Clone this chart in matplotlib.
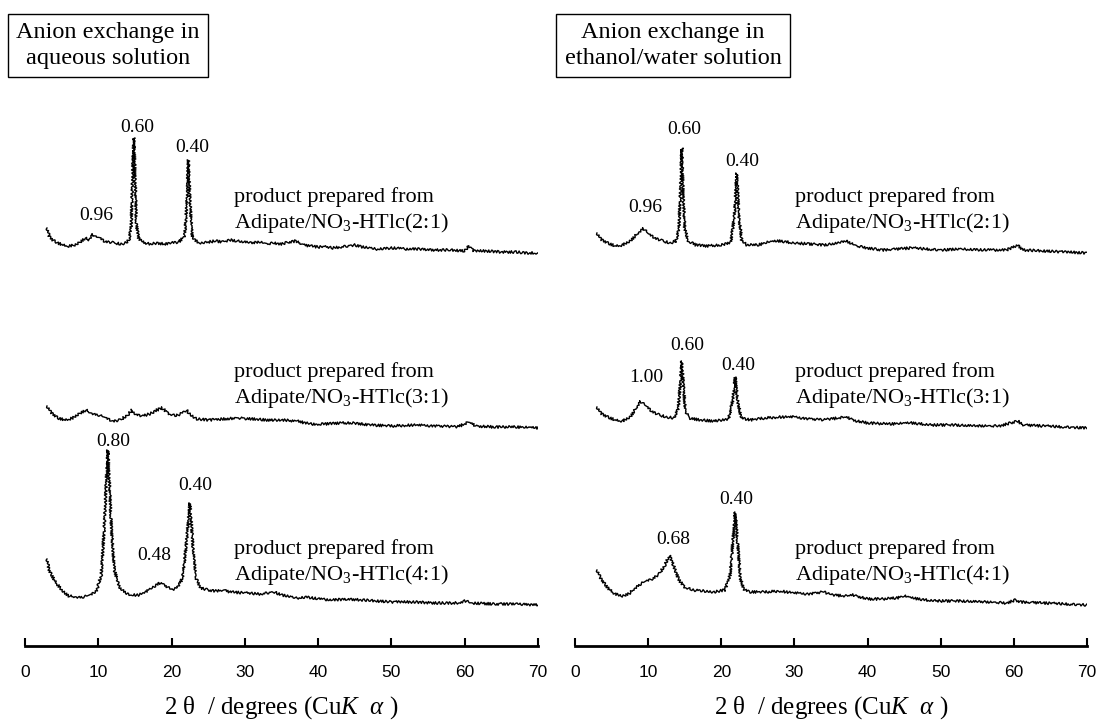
import matplotlib
matplotlib.use("Agg")
import matplotlib.pyplot as plt

plt.rcParams["font.family"] = ["Liberation Serif", "DejaVu Serif"]
plt.rcParams["mathtext.fontset"] = "custom"
plt.rcParams["mathtext.rm"] = "Liberation Serif"
plt.rcParams["mathtext.it"] = "Liberation Serif:italic"

# ---- data: 2-theta (deg) and relative intensity ----
# aqueous solution
aq21_x = [3.0, 3.3, 3.8, 4.5, 5.2, 6.0, 6.8, 7.5, 8.2, 8.7, 9.2, 9.6, 10.2, 10.8, 11.5, 12.3, 13.0, 13.7,
          14.2, 14.5, 14.7, 14.85, 15.0, 15.2, 15.5, 16.0, 17, 18, 19, 20, 21, 21.8, 22.1, 22.3, 22.5, 22.8,
          23.3, 24, 25, 26, 27, 28, 29, 30, 31, 32, 33, 34, 35, 36, 37, 38, 39, 40, 41, 42, 43, 44, 45, 46,
          47, 48, 50, 52, 54, 56, 58, 60, 60.6, 61.2, 63, 65, 67, 68.5, 70]
aq21_y = [25, 17, 13, 10, 8, 7, 8, 11, 15, 13, 19, 16, 15, 12, 11, 10, 9, 10,
          13, 28, 83, 115, 83, 28, 15, 11, 9, 10, 9, 10, 11, 17, 53, 93, 53, 17,
          12, 10, 11, 12, 11, 13, 12, 11, 10, 11, 9, 10, 9, 11, 12, 8, 7, 6, 6, 5, 6, 7, 8, 6,
          5, 4, 5, 4, 4, 3, 3, 2, 7, 2, 2, 1, 1, 0, 0]

aq31_x = [3.0, 3.5, 4.5, 5.5, 6.5, 7.5, 8.3, 9.0, 10, 11, 12, 13, 14, 14.6, 15.2, 16, 17, 18, 18.7, 19.5,
          20.5, 21.5, 22.0, 22.6, 23.5, 25, 27, 29, 31, 33, 35, 37, 39, 41, 43, 45, 47, 50, 53, 56, 59,
          60.6, 61.5, 64, 67, 70]
aq31_y = [22, 16, 10, 8, 10, 15, 18, 15, 13, 10, 7, 8, 13, 18, 13, 12, 14, 18, 20, 15,
          12, 15, 18, 13, 9, 8, 9, 10, 9, 8, 8, 7, 4, 4, 5, 5, 3, 2, 3, 2, 1,
          6, 2, 1, 1, 0]

aq41_x = [3.0, 3.3, 4.0, 5.0, 6.0, 7.0, 8.0, 9.0, 9.8, 10.4, 10.8, 11.1, 11.3, 11.5, 11.8, 12.2, 12.8,
          13.5, 14.5, 15.5, 16.5, 17.5, 18.3, 19.0, 20.0, 20.8, 21.5, 22.0, 22.5, 22.9, 23.3, 24.0, 25,
          26, 27, 28, 30, 32, 34, 35, 37, 38.5, 40, 42, 44, 46, 48, 50, 53, 56, 59, 60, 61, 64, 67, 70]
aq41_y = [46, 35, 25, 15, 9, 8, 8, 10, 15, 30, 75, 125, 155, 125, 75, 35, 19,
          13, 10, 10, 13, 18, 22, 20, 15, 17, 27, 60, 102, 60, 27, 17, 15,
          14, 15, 13, 12, 11, 13, 10, 7, 8, 6, 5, 6, 5, 4, 3, 3, 2, 2, 4, 2, 1, 1, 0]

# ethanol/water solution
ew21_x = [3.0, 3.5, 4.5, 5.5, 6.5, 7.5, 8.5, 9.3, 10.0, 11, 12, 13, 13.8, 14.2, 14.45, 14.6, 14.75, 15.0,
          15.5, 16.5, 18, 20, 21.3, 21.8, 22.1, 22.4, 22.8, 23.5, 25, 26.5, 28, 30, 32, 34, 36, 37, 38.5,
          40, 42, 44, 46, 48, 50, 53, 56, 59, 60.5, 61.3, 64, 67, 70]
ew21_y = [20, 14, 10, 7, 8, 12, 19, 25, 19, 15, 12, 10, 12, 24, 67, 105, 67, 24,
          12, 8, 7, 8, 11, 37, 80, 37, 12, 8, 8, 11, 12, 10, 9, 8, 10, 12, 7,
          5, 3, 4, 5, 4, 3, 4, 3, 3, 8, 3, 2, 1, 0]

ew31_x = [3.0, 3.5, 4.5, 5.5, 6.5, 7.5, 8.3, 8.9, 9.5, 10.5, 11.5, 12.5, 13.5, 14.1, 14.4, 14.6, 14.8,
          15.1, 15.6, 17, 19, 21.0, 21.6, 21.9, 22.2, 22.7, 24, 26, 28, 30, 32, 34, 36, 37, 38.5, 40, 43,
          46, 49, 52, 55, 58, 60.5, 61.3, 64, 67, 70]
ew31_y = [21, 15, 11, 8, 7, 11, 19, 27, 23, 17, 13, 11, 10, 19, 44, 67, 44,
          17, 10, 8, 7, 9, 29, 51, 29, 10, 8, 10, 11, 11, 9, 8, 10, 11, 7, 5, 4,
          5, 3, 3, 2, 2, 7, 3, 2, 1, 0]

ew41_x = [3.0, 3.5, 4.5, 5.5, 6.5, 7.5, 8.5, 9.5, 10.5, 11.5, 12.3, 12.9, 13.5, 14.2, 15.0, 16, 17.5, 19,
          20.5, 21.2, 21.6, 21.9, 22.2, 22.6, 23.1, 24, 26, 28, 30, 32, 34, 35, 37, 38, 40, 42, 44, 45,
          46, 48, 50, 53, 56, 59, 60.2, 61, 64, 67, 70]
ew41_y = [35, 27, 17, 11, 9, 12, 19, 23, 26, 31, 40, 50, 39, 25, 18, 15, 14, 13,
          15, 30, 65, 93, 65, 27, 15, 13, 13, 14, 12, 11, 13, 10, 9, 10, 6, 6, 7, 9,
          7, 5, 4, 4, 3, 2, 5, 3, 2, 1, 0]

sample_names = ["product prepared from\nAdipate/NO$_3$-HTlc(2:1)",
                "product prepared from\nAdipate/NO$_3$-HTlc(3:1)",
                "product prepared from\nAdipate/NO$_3$-HTlc(4:1)"]
panel_titles = ["Anion exchange in\naqueous solution", "Anion exchange in\nethanol/water solution"]

# peak labels (d-spacing / nm): text, 2-theta, height
aq_peaks = [("0.96", 9.7, 431), ("0.60", 15.3, 519), ("0.40", 22.8, 498),
            ("0.80", 12.0, 204), ("0.40", 23.2, 160), ("0.48", 17.7, 91)]
ew_peaks = [("0.96", 9.6, 439), ("0.60", 15.0, 517), ("0.40", 22.8, 485),
            ("1.00", 9.8, 269), ("0.60", 15.3, 301), ("0.40", 22.3, 281),
            ("0.68", 13.4, 107), ("0.40", 22.1, 146)]

offsets = [393, 218, 41]   # vertical stacking of the patterns
ticks = [0, 10, 20, 30, 40, 50, 60, 70]

W, H = 1097, 723
fig = plt.figure(figsize=(W / 100, H / 100), dpi=100)

panels = [
    (25, 538, [(aq21_x, aq21_y), (aq31_x, aq31_y), (aq41_x, aq41_y)], aq_peaks, panel_titles[0], 108, 28.5),
    (575, 1087, [(ew21_x, ew21_y), (ew31_x, ew31_y), (ew41_x, ew41_y)], ew_peaks, panel_titles[1], 673, 30.1),
]

for x0, x1, patterns, peaks, title, title_x, name_x in panels:
    ax = fig.add_axes([x0 / W, (H - 646) / H, (x1 - x0) / W, 546 / H])
    ax.set_xlim(0, 70)
    ax.set_ylim(0, 546)
    for s in ["left", "right", "top"]:
        ax.spines[s].set_visible(False)
    ax.spines["bottom"].set_linewidth(2)
    ax.set_yticks([])
    ax.set_xticks(ticks)
    ax.tick_params(axis="x", direction="in", length=6, width=1.5, pad=14,
                   labelsize=12.5, labelfontfamily="Liberation Sans")

    for (px, py), off, name in zip(patterns, offsets, sample_names):
        line, = ax.plot(px, [v + off for v in py], color="black", lw=1.0)
        line.set_sketch_params(1.3, 3, 2)
        ax.text(name_x, off + 42, name, fontsize=16,
                va="center", ha="left", linespacing=1.25)

    for txt, px, py in peaks:
        ax.text(px, py, txt, fontsize=14, ha="center", va="center")

    ax.set_xlabel("2 θ  / degrees (Cu$K$  $\\alpha$ )", fontsize=18, labelpad=10)

    fig.text(title_x / W, 1 - 45.5 / H, title, fontsize=17.5, ha="center", va="center",
             linespacing=1.3,
             bbox=dict(boxstyle="square,pad=0.35", fc="white", ec="black", lw=1))

fig.savefig("out.png", dpi=100)
